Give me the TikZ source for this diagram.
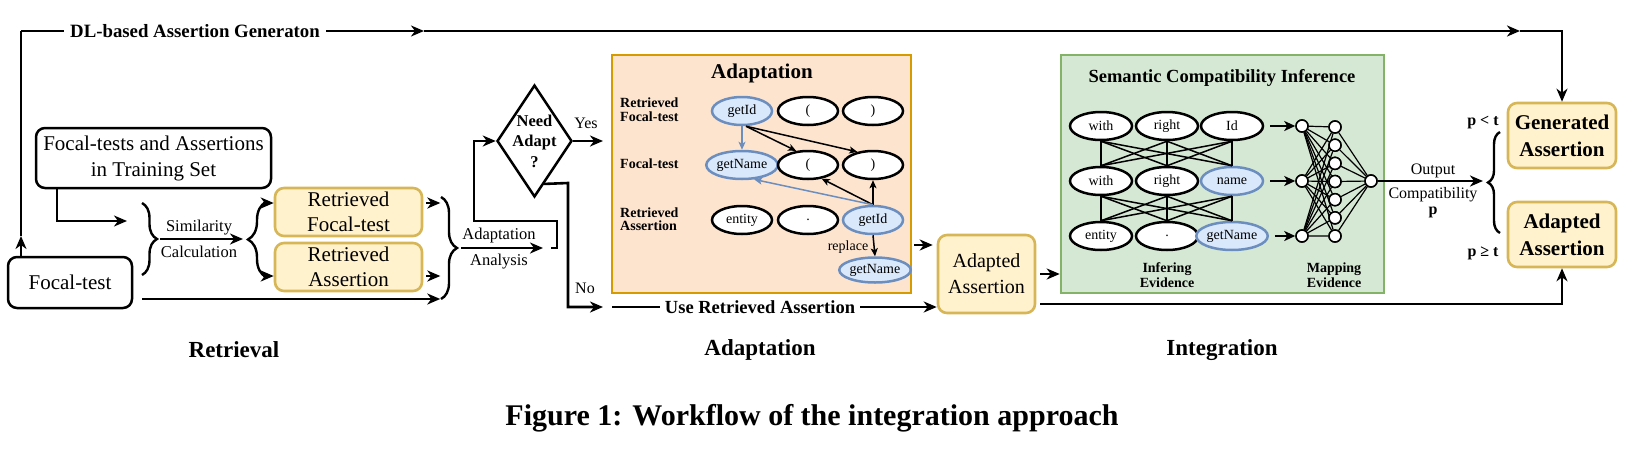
\documentclass[tikz,border=0pt]{standalone}
\usepackage{fontspec}
\setmainfont{Liberation Serif}
\usetikzlibrary{arrows.meta,shapes.geometric,decorations.pathreplacing,calc}
\definecolor{yfill}{HTML}{FFF2CC}
\definecolor{ystroke}{HTML}{D6B656}
\definecolor{ofill}{HTML}{FDE4CE}
\definecolor{ostroke}{HTML}{D79B00}
\definecolor{gfill}{HTML}{D5E8D4}
\definecolor{gstroke}{HTML}{82B366}
\definecolor{bfill}{HTML}{DAE8FC}
\definecolor{bstroke}{HTML}{6C8EBF}
\newcommand\myfs[2]{\fontsize{#1}{#2}\selectfont}
\tikzset{
  ln/.style={line width=2.6pt},
  arr/.style={-{Stealth[length=13pt,width=11pt,inset=4pt]}},
  sarr/.style={-{Stealth[length=8pt,width=7pt,inset=2pt]}, line width=1.5pt},
  blk/.style={draw=black, fill=white, line width=2.5pt, rounded corners=9pt, align=center, inner sep=0pt},
  ylw/.style={draw=ystroke, fill=yfill, line width=2.6pt, rounded corners=9pt, align=center, inner sep=0pt},
  ell/.style={ellipse, draw=black, fill=white, line width=2.5pt, minimum width=60pt, minimum height=28pt, inner sep=0pt, font=\myfs{14}{16}},
  bell/.style={ell, draw=bstroke, fill=bfill},
  gell/.style={ell, minimum width=62pt},
  gbell/.style={gell, draw=bstroke, fill=bfill},
  neu/.style={circle, draw=black, fill=white, line width=1.5pt, minimum size=12pt, inner sep=0pt},
  brc/.style={decorate, decoration={brace, amplitude=#1}, line width=2.4pt},
  txt/.style={inner sep=0pt, align=center},
}
\begin{document}
\begin{tikzpicture}[x=1pt,y=-1pt]
\useasboundingbox (0,0) rectangle (1633,466);

% ---------- Retrieval boxes ----------
\node[blk, minimum width=235pt, minimum height=60pt, font=\myfs{21}{26}] (train) at (153.5,158) {Focal-tests and Assertions\\in Training Set};
\node[blk, minimum width=124pt, minimum height=51pt, font=\myfs{21}{25}] (ft) at (70,282.5) {Focal-test};
\node[ylw, minimum width=147pt, minimum height=48pt, font=\myfs{21}{25}] (rft) at (348.5,212) {Retrieved\\Focal-test};
\node[ylw, minimum width=147pt, minimum height=48pt, font=\myfs{21}{25}] (ras) at (348.5,267) {Retrieved\\Assertion};

% ---------- top DL line ----------
\coordinate (ftT) at (21,257);
\coordinate (ftUp) at (21,236);
\coordinate (tA) at (21,31);
\coordinate (tM) at (424,31);
\coordinate (tE) at (1520,31);

% ---------- Adaptation / Integration boxes ----------
\node[draw=ostroke, fill=ofill, line width=2.6pt, minimum width=299pt, minimum height=238pt, inner sep=0pt] (adbox) at (761.5,174) {};
\node[draw=gstroke, fill=gfill, line width=2.6pt, minimum width=323pt, minimum height=238pt, inner sep=0pt] (grbox) at (1222.5,174) {};
\node[ylw, minimum width=97pt, minimum height=78pt, font=\myfs{20}{26}] (amid) at (986.5,274) {Adapted\\Assertion};
\node[ylw, minimum width=108pt, minimum height=65pt, font=\bfseries\myfs{21}{27}] (gen) at (1562,135.5) {Generated\\Assertion};
\node[ylw, minimum width=108pt, minimum height=65pt, font=\bfseries\myfs{21}{27}] (adp) at (1562,234.5) {Adapted\\Assertion};

% top line
\draw[ln, arr] (ftT) -- (ftUp);
\draw[ln] (ftUp) -- (tA);
\draw[ln, arr] (tA) -- (tM);
\draw[ln, arr] (tM) -- (tE);
\draw[ln, arr] (tE) -| (gen.north);
\node[txt, fill=white, inner xsep=6pt, inner ysep=3pt, font=\bfseries\myfs{18.8}{20}] (dllab) at (195,31) {DL-based Assertion Generaton};

% training -> brace 1
\coordinate (trB) at (57,188);
\coordinate (b1in) at (127,221);
\draw[ln, arr] (trB) |- (b1in);
\draw[brc=15pt] (142,203) -- (142,275);
\coordinate (simS) at (160,239);
\coordinate (simE) at (243,239);
\draw[ln, arr] (simS) -- (simE);
\node[txt, font=\myfs{16.5}{18}] (simlab) at (199,228) {Similarity};
\node[txt, font=\myfs{16.5}{18}] (callab) at (199,252) {Calculation};

% brace 2
\draw[brc=18pt] (266,277) -- (266,202);
\draw[ln, arr] ([xshift=-11pt,yshift=9pt]rft.west) -- ([yshift=9pt]rft.west);
\draw[ln, arr] ([xshift=-11pt,yshift=-9pt]ras.west) -- ([yshift=-9pt]ras.west);

% outputs -> brace 3
\draw[ln, arr] ([xshift=3pt,yshift=9pt]rft.east) -- ++(14,0);
\draw[ln, arr] ([xshift=3pt,yshift=-9pt]ras.east) -- ++(14,0);
\draw[ln, arr] ([xshift=9pt,yshift=-16.5pt]ft.east) -- ++(298,0);
\draw[brc=16pt] (441,197) -- (441,299);

% adaptation analysis
\coordinate (aaS) at (461,248);
\coordinate (aaE) at (543,248);
\draw[ln, arr] (aaS) -- (aaE);
\node[txt, font=\myfs{16.5}{18}] (aalab1) at (499,236) {Adaptation};
\node[txt, font=\myfs{16.5}{18}] (aalab2) at (499,262) {Analysis};

% diamond
\node[diamond, draw=black, fill=white, line width=2.5pt, minimum width=75pt, minimum height=112pt, inner sep=0pt] (dia) at (534.5,141) {};
\node[txt, font=\bfseries\myfs{16.5}{20.5}] (diatxt) at (534.5,141) {Need\\Adapt\\?};
\coordinate (rt1) at (551,248);
\draw[ln, arr] (rt1) -- (557,248) -- (557,221) -- (474,221) -- (474,141) -- (dia.west);

% yes / no
\coordinate (yesE) at (603,141);
\draw[ln, arr] (dia.east) -- (yesE);
\node[txt, font=\myfs{16}{18}] (yeslab) at (586,123) {Yes};
\coordinate (noE) at (603,307);
\draw[ln, arr] ($(dia.east)!0.75!(dia.south)$) -- (568,183) -- (568,307) -- (noE);
\node[txt, font=\myfs{16}{18}] (nolab) at (585,288) {No};

% use retrieved assertion
\coordinate (urS) at (612,307);
\draw[ln, arr] (urS) -- (amid.west |- urS);
\node[txt, fill=white, inner xsep=5pt, inner ysep=3pt, font=\bfseries\myfs{18.5}{20}] (urlab) at (760,307) {Use Retrieved Assertion};

% ---------- Adaptation box content ----------
\node[txt, font=\bfseries\myfs{21}{24}] (adtitle) at (762,73) {Adaptation};
\node[txt, anchor=west, align=left, font=\bfseries\myfs{14}{14}] (rl1) at (620,110) {Retrieved\\Focal-test};
\node[txt, anchor=west, align=left, font=\bfseries\myfs{14}{14}] (rl2) at (620,164) {Focal-test};
\node[txt, anchor=west, align=left, font=\bfseries\myfs{14}{13}] (rl3) at (620,219) {Retrieved\\Assertion};

\node[bell] (a1) at (742,111) {getId};
\node[ell]  (a2) at (808,111) {(};
\node[ell]  (a3) at (873,111) {)};
\node[bell] (b1) at (742,165) {getName};
\node[ell]  (b2) at (808,165) {(};
\node[ell]  (b3) at (873,165) {)};
\node[ell]  (c1) at (742,220) {entity};
\node[ell]  (c2) at (808,220) {.};
\node[bell] (c3) at (873,220) {getId};
\node[bell, minimum width=58pt, minimum height=25pt] (d3) at (875,270) {getName};

\draw[sarr, draw=bstroke, -{Stealth[length=8pt,width=7pt,inset=2pt,fill=bstroke]}] (a1.south) -- (b1.north);
\draw[sarr] ([xshift=4pt]a1.south) -- (b2.130);
\draw[sarr] ([xshift=4pt]a1.south) -- (b3.140);
\draw[sarr] (c3.north) -- (b3.south);
\draw[sarr] (c3.north) -- (b2.-45);
\draw[sarr, draw=bstroke, -{Stealth[length=8pt,width=7pt,inset=2pt,fill=bstroke]}] (c3.north) -- (b1.-50);
\draw[sarr] (c3.south) -- (d3.north);
\node[txt, font=\myfs{14}{16}] (replab) at (848,247) {replace};

% adaptation -> adapted assertion
\draw[ln, arr] ([xshift=2pt,yshift=-71pt]adbox.east) -- ([xshift=-4pt,yshift=29pt]amid.west);

% ---------- Integration content ----------
\node[txt, font=\bfseries\myfs{18.5}{20}] (grtitle) at (1222,78) {Semantic Compatibility Inference};
\node[gell]  (g11) at (1101,126) {with};
\node[gell]  (g12) at (1167,126) {right};
\node[gell]  (g13) at (1232,126) {Id};
\node[gell]  (g21) at (1101,181) {with};
\node[gell]  (g22) at (1167,181) {right};
\node[gbell] (g23) at (1232,181) {name};
\node[gell]  (g31) at (1101,236) {entity};
\node[gell]  (g32) at (1167,236) {.};
\node[gbell] (g33) at (1232,236) {getName};
\foreach \u in {1,2,3}{
  \foreach \l in {1,2,3}{
    \draw[line width=1.5pt] (g1\u.south) -- (g2\l.north);
    \draw[line width=1.5pt] (g2\u.south) -- (g3\l.north);
  }
}
\node[txt, font=\bfseries\myfs{14}{15}] (inflab) at (1167,275) {Infering\\Evidence};
\node[txt, font=\bfseries\myfs{14}{15}] (maplab) at (1334,275) {Mapping\\Evidence};

% neural net
\foreach \k/\yy in {1/126,2/181,3/236}{
  \node[neu] (i\k) at (1302,\yy) {};
}
\foreach \k in {1,...,7}{
  \node[neu] (h\k) at (1335,{127+(\k-1)*18.17}) {};
}
\node[neu] (o) at (1371,181) {};
\foreach \k in {1,2,3}{
  \foreach \j in {1,...,7}{
    \draw[line width=1.2pt] (i\k) -- (h\j);
  }
}
\foreach \j in {1,...,7}{
  \draw[line width=1.2pt] (h\j) -- (o);
}
\foreach \k in {1,...,7}{
  \node[neu] at (h\k) {};
}
\foreach \k in {1,2,3}{
  \node[neu] at (i\k) {};
}
\node[neu] at (o) {};
\draw[line width=2.2pt, -{Stealth[length=11pt,width=10pt,inset=3pt]}] ([xshift=6pt]g13.east) -- (i1.west);
\draw[line width=2.2pt, -{Stealth[length=11pt,width=10pt,inset=3pt]}] ([xshift=6pt]g23.east) -- (i2.west);
\draw[line width=2.2pt, -{Stealth[length=11pt,width=10pt,inset=3pt]}] ([xshift=6pt]g33.east) -- (i3.west);

% adapted assertion -> integration
\draw[ln, arr] ([xshift=4pt]amid.east) -- (grbox.west |- amid.east);
\draw[ln, arr] ([xshift=4pt,yshift=-30pt]amid.east) -| (adp.south);

% output
\coordinate (outE) at (1483,181);
\draw[ln, arr] (o.east) -- (outE);
\node[txt, font=\myfs{16}{18}] (outlab) at (1433,171) {Output};
\node[txt, font=\myfs{16}{18}] (complab) at (1433,195) {Compatibility};
\node[txt, font=\bfseries\myfs{16}{18}] (plab) at (1433,212) {p};
\draw[brc=12pt] (1500,233) -- (1500,132);
\node[txt, font=\bfseries\myfs{16}{18}] (plt) at (1483,123) {p < t};
\node[txt, font=\bfseries\myfs{16}{18}] (pge) at (1483,253) {p ≥ t};

% ---------- stage labels and caption ----------
\node[txt, font=\bfseries\myfs{23}{26}] (st1) at (234,350) {Retrieval};
\node[txt, font=\bfseries\myfs{23}{26}] (st2) at (760,350) {Adaptation};
\node[txt, font=\bfseries\myfs{23}{26}] (st3) at (1222,350) {Integration};
\node[txt, font=\bfseries\myfs{30}{32}] (cap) at (812,418) {Figure 1: Workflow of the integration approach};
\end{tikzpicture}
\end{document}
